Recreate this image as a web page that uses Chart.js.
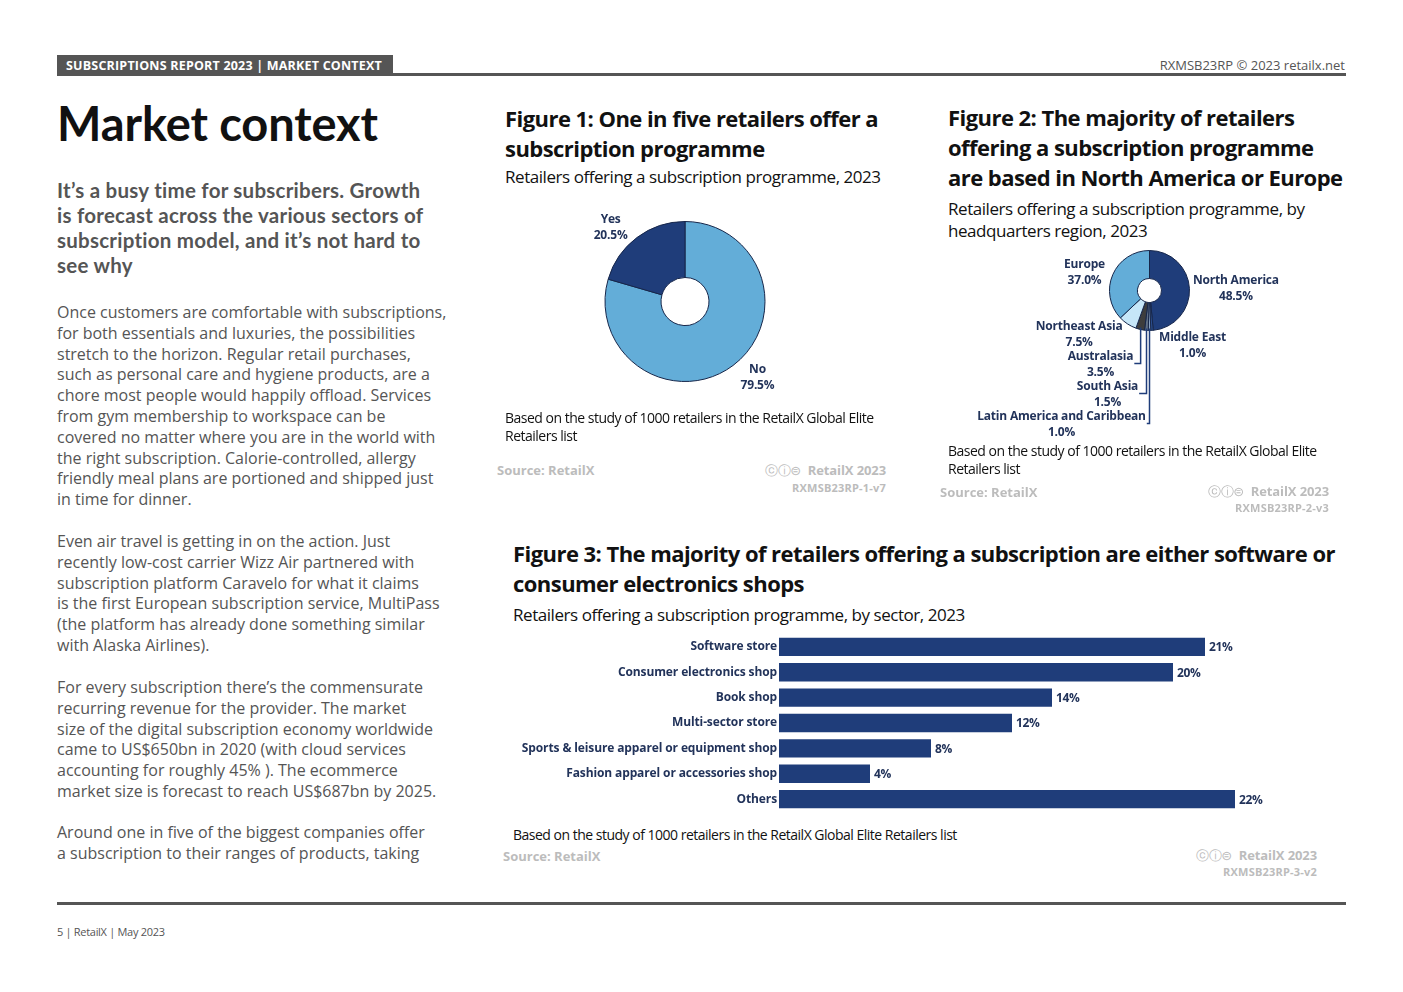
<!DOCTYPE html>
<html><head><meta charset="utf-8">
<script src="https://cdn.jsdelivr.net/npm/chart.js@4.4.0/dist/chart.umd.min.js"></script>
<style>
html,body{margin:0;padding:0;background:#fff;}
body{width:1403px;height:992px;position:relative;overflow:hidden;font-family:"Open Sans",sans-serif;color:#111;}
.abs{position:absolute;white-space:nowrap;}
.hbox{left:57px;top:55px;width:336px;height:21px;background:#555;color:#fff;font-weight:700;font-size:12.5px;line-height:21px;padding-left:9px;box-sizing:border-box;letter-spacing:0.2px;}
.hline{left:57px;top:73px;width:1289px;height:3px;background:#555;}
.hright{right:58px;top:57px;font-size:13px;line-height:16px;color:#555;}
.big{left:57px;top:100px;font-family:Lato,sans-serif;font-weight:700;font-size:47px;line-height:47px;letter-spacing:-0.1px;color:#111;}
.lede{left:57px;top:178px;font-family:Lato,sans-serif;font-weight:700;font-size:20.5px;line-height:25px;letter-spacing:0.25px;color:#555;}
.body{left:57px;font-size:16px;line-height:20.8px;color:#555;}
.ftitle{font-weight:700;font-size:22px;line-height:30px;letter-spacing:-0.55px;color:#111;}
.fsub{font-size:17px;line-height:22px;letter-spacing:-0.45px;color:#111;}
.note{font-size:14px;line-height:18px;letter-spacing:-0.5px;color:#111;}
.src{font-weight:700;font-size:13px;line-height:18px;letter-spacing:0px;color:#bcbcbc;}
.cred{font-weight:700;font-size:13px;line-height:18px;letter-spacing:-0.1px;color:#bcbcbc;text-align:right;}
.cred .ic{font-family:"DejaVu Sans",sans-serif;font-weight:400;font-size:13px;letter-spacing:-0.5px;margin-right:7px;}
.cred2{font-weight:700;font-size:11px;line-height:14px;letter-spacing:0.2px;color:#bcbcbc;text-align:right;}
.fline{left:57px;top:902px;width:1289px;height:3px;background:#555;}
.foot{left:57px;top:924px;font-size:11px;line-height:16px;letter-spacing:-0.3px;color:#555;}
canvas{position:absolute;}
</style></head><body>

<div class="abs hbox">SUBSCRIPTIONS REPORT 2023 | MARKET CONTEXT</div>
<div class="abs hline"></div>
<div class="abs hright">RXMSB23RP © 2023 retailx.net</div>

<div class="abs big">Market context</div>
<div class="abs lede">It’s a busy time for subscribers. Growth<br>is forecast across the various sectors of<br>subscription model, and it’s not hard to<br>see why</div>

<div class="abs body" style="top:302px">Once customers are comfortable with subscriptions,<br>for both essentials and luxuries, the possibilities<br>stretch to the horizon. Regular retail purchases,<br>such as personal care and hygiene products, are a<br>chore most people would happily offload. Services<br>from gym membership to workspace can be<br>covered no matter where you are in the world with<br>the right subscription. Calorie-controlled, allergy<br>friendly meal plans are portioned and shipped just<br>in time for dinner.</div>
<div class="abs body" style="top:531px">Even air travel is getting in on the action. Just<br>recently low-cost carrier Wizz Air partnered with<br>subscription platform Caravelo for what it claims<br>is the first European subscription service, MultiPass<br>(the platform has already done something similar<br>with Alaska Airlines).</div>
<div class="abs body" style="top:677px">For every subscription there’s the commensurate<br>recurring revenue for the provider. The market<br>size of the digital subscription economy worldwide<br>came to US$650bn in 2020 (with cloud services<br>accounting for roughly 45% ). The ecommerce<br>market size is forecast to reach US$687bn by 2025.</div>
<div class="abs body" style="top:822px">Around one in five of the biggest companies offer<br>a subscription to their ranges of products, taking</div>

<!-- Figure 1 -->
<div class="abs ftitle" style="left:505px;top:103px">Figure 1: One in five retailers offer a<br>subscription programme</div>
<div class="abs fsub" style="left:505px;top:166px">Retailers offering a subscription programme, 2023</div>
<canvas id="c1" width="300" height="220" style="left:535px;top:191px;width:300px;height:220px"></canvas>
<div class="abs note" style="left:505px;top:409px">Based on the study of 1000 retailers in the RetailX Global Elite<br>Retailers list</div>
<div class="abs src" style="left:497px;top:461px">Source: RetailX</div>
<div class="abs cred" style="right:517px;top:461px"><span class="ic">ⓒⓘ⊜</span>RetailX 2023</div>
<div class="abs cred2" style="right:517px;top:481px">RXMSB23RP-1-v7</div>

<!-- Figure 2 -->
<div class="abs ftitle" style="left:948px;top:102px">Figure 2: The majority of retailers<br>offering a subscription programme<br>are based in North America or Europe</div>
<div class="abs fsub" style="left:948px;top:198px">Retailers offering a subscription programme, by<br>headquarters region, 2023</div>
<canvas id="c2" width="340" height="200" style="left:960px;top:245px;width:340px;height:200px"></canvas>
<div class="abs note" style="left:948px;top:442px;line-height:17.5px">Based on the study of 1000 retailers in the RetailX Global Elite<br>Retailers list</div>
<div class="abs src" style="left:940px;top:483px">Source: RetailX</div>
<div class="abs cred" style="right:74px;top:482px"><span class="ic">ⓒⓘ⊜</span>RetailX 2023</div>
<div class="abs cred2" style="right:74px;top:501px">RXMSB23RP-2-v3</div>

<!-- Figure 3 -->
<div class="abs ftitle" style="left:513px;top:538px">Figure 3: The majority of retailers offering a subscription are either software or<br>consumer electronics shops</div>
<div class="abs fsub" style="left:513px;top:604px">Retailers offering a subscription programme, by sector, 2023</div>
<canvas id="c3" width="826" height="196" style="left:513px;top:625px;width:826px;height:196px"></canvas>
<div class="abs note" style="left:513px;top:826px">Based on the study of 1000 retailers in the RetailX Global Elite Retailers list</div>
<div class="abs src" style="left:503px;top:847px">Source: RetailX</div>
<div class="abs cred" style="right:86px;top:846px"><span class="ic">ⓒⓘ⊜</span>RetailX 2023</div>
<div class="abs cred2" style="right:86px;top:865px">RXMSB23RP-3-v2</div>

<div class="abs fline"></div>
<div class="abs foot">5 | RetailX | May 2023</div>

<script>
// ---- Data ----
const offerLabels = ['No', 'Yes'];
const offerValues = [79.5, 20.5];

const regionLabels = ['North America', 'Middle East', 'Latin America and Caribbean', 'South Asia', 'Australasia', 'Northeast Asia', 'Europe'];
const regionValues = [48.5, 1.0, 1.0, 1.5, 3.5, 7.5, 37.0];

const sectorLabels = ['Software store', 'Consumer electronics shop', 'Book shop', 'Multi-sector store', 'Sports & leisure apparel or equipment shop', 'Fashion apparel or accessories shop', 'Others'];
const sectorValues = [21.3, 19.7, 13.65, 11.65, 7.6, 4.55, 22.8];
const sectorValueText = ['21%', '20%', '14%', '12%', '8%', '4%', '22%'];

// ---- Styles ----
const NAVY = '#1f3d7a';
const LIGHT = '#63add8';
const TEXT = '#22335a';
Chart.defaults.font.family = "'Open Sans', sans-serif";

const letterSpacingPlugin = {
  id: 'letterSpacing',
  beforeDraw(chart, args, opts) {
    try { chart.ctx.letterSpacing = opts.value || '0px'; } catch (e) {}
  }
};

const pieLabelPlugin = {
  id: 'pieLabels',
  afterDatasetsDraw(chart, args, opts) {
    const ctx = chart.ctx;
    const meta = chart.getDatasetMeta(0);
    const values = chart.data.datasets[0].data;
    ctx.save();
    ctx.font = 'bold 12px "Open Sans"';
    try { ctx.letterSpacing = '-0.2px'; } catch (e) {}
    ctx.fillStyle = TEXT;
    ctx.strokeStyle = NAVY;
    ctx.lineWidth = 1.5;
    ctx.textAlign = 'center';
    ctx.textBaseline = 'middle';
    meta.data.forEach((arc, i) => {
      const lay = opts.layout[i];
      const p = arc.getProps(['x', 'y', 'outerRadius', 'startAngle', 'endAngle'], true);
      const r = p.outerRadius;
      const lx = p.x + lay.dx * r, ly = p.y + lay.dy * r;
      const name = chart.data.labels[i];
      ctx.fillText(name, lx, ly - 8);
      ctx.fillText(values[i].toFixed(1) + '%', lx, ly + 8);
      if (lay.leader) {
        const a = (p.startAngle + p.endAngle) / 2;
        const px = p.x + Math.cos(a) * (r - 2), py = p.y + Math.sin(a) * (r - 2);
        const w = ctx.measureText(name).width;
        const ey = ly - 1;
        ctx.beginPath();
        ctx.moveTo(px, py);
        ctx.lineTo(px, ey);
        ctx.lineTo(lx + w / 2 + 1, ey);
        ctx.stroke();
      }
    });
    ctx.restore();
  }
};

const barValuePlugin = {
  id: 'barValues',
  afterDatasetsDraw(chart, args, opts) {
    const ctx = chart.ctx;
    const meta = chart.getDatasetMeta(0);
    ctx.save();
    ctx.font = 'bold 12px "Open Sans"';
    try { ctx.letterSpacing = '-0.3px'; } catch (e) {}
    ctx.fillStyle = TEXT;
    ctx.textAlign = 'left';
    ctx.textBaseline = 'middle';
    meta.data.forEach((bar, i) => {
      ctx.fillText(opts.texts[i], bar.x + 4, bar.y + 1);
    });
    ctx.restore();
  }
};

new Chart(document.getElementById('c1'), {
  type: 'doughnut',
  data: {
    labels: offerLabels,
    datasets: [{ data: offerValues, backgroundColor: [LIGHT, NAVY], borderColor: '#16264a', borderWidth: 1 }]
  },
  options: {
    responsive: false, animation: false, cutout: '30%',
    layout: { padding: { top: 30, bottom: 29, left: 0, right: 0 } },
    plugins: {
      legend: { display: false }, tooltip: { enabled: false },
      pieLabels: { layout: [{ dx: 0.906, dy: 0.95 }, { dx: -0.93, dy: -0.925 }] }
    }
  },
  plugins: [pieLabelPlugin]
});

new Chart(document.getElementById('c2'), {
  type: 'doughnut',
  data: {
    labels: regionLabels,
    datasets: [{
      data: regionValues,
      backgroundColor: [NAVY, '#2c4f8f', '#8aa3c2', '#5f6f85', '#3d3d3d', '#c6e6f8', LIGHT],
      borderColor: '#16264a', borderWidth: 1
    }]
  },
  options: {
    responsive: false, animation: false, cutout: '30%',
    layout: { padding: { top: 5, bottom: 114, left: 149, right: 110 } },
    plugins: {
      legend: { display: false }, tooltip: { enabled: false },
      pieLabels: {
        layout: [
          { dx: 2.16, dy: -0.04 },
          { dx: 1.075, dy: 1.375 },
          { dx: -2.2, dy: 3.35, leader: true },
          { dx: -1.05, dy: 2.6, leader: true },
          { dx: -1.225, dy: 1.85, leader: true },
          { dx: -1.76, dy: 1.1 },
          { dx: -1.625, dy: -0.45 }
        ]
      }
    }
  },
  plugins: [pieLabelPlugin]
});

new Chart(document.getElementById('c3'), {
  type: 'bar',
  data: {
    labels: sectorLabels,
    datasets: [{ data: sectorValues, backgroundColor: NAVY, barPercentage: 0.72, categoryPercentage: 1 }]
  },
  options: {
    indexAxis: 'y', responsive: false, animation: false,
    layout: { padding: 0 },
    plugins: {
      legend: { display: false }, tooltip: { enabled: false },
      barValues: { texts: sectorValueText },
      letterSpacing: { value: '-0.12px' }
    },
    scales: {
      x: { display: false, min: 0, max: 28 },
      y: {
        grid: { display: false, drawTicks: false, tickLength: 0 }, border: { display: false },
        ticks: { padding: 2, autoSkip: false, color: TEXT, font: { size: 12, weight: 'bold' } },
        afterFit(s) { s.width = 266; }
      }
    }
  },
  plugins: [letterSpacingPlugin, barValuePlugin]
});
</script>
</body></html>
